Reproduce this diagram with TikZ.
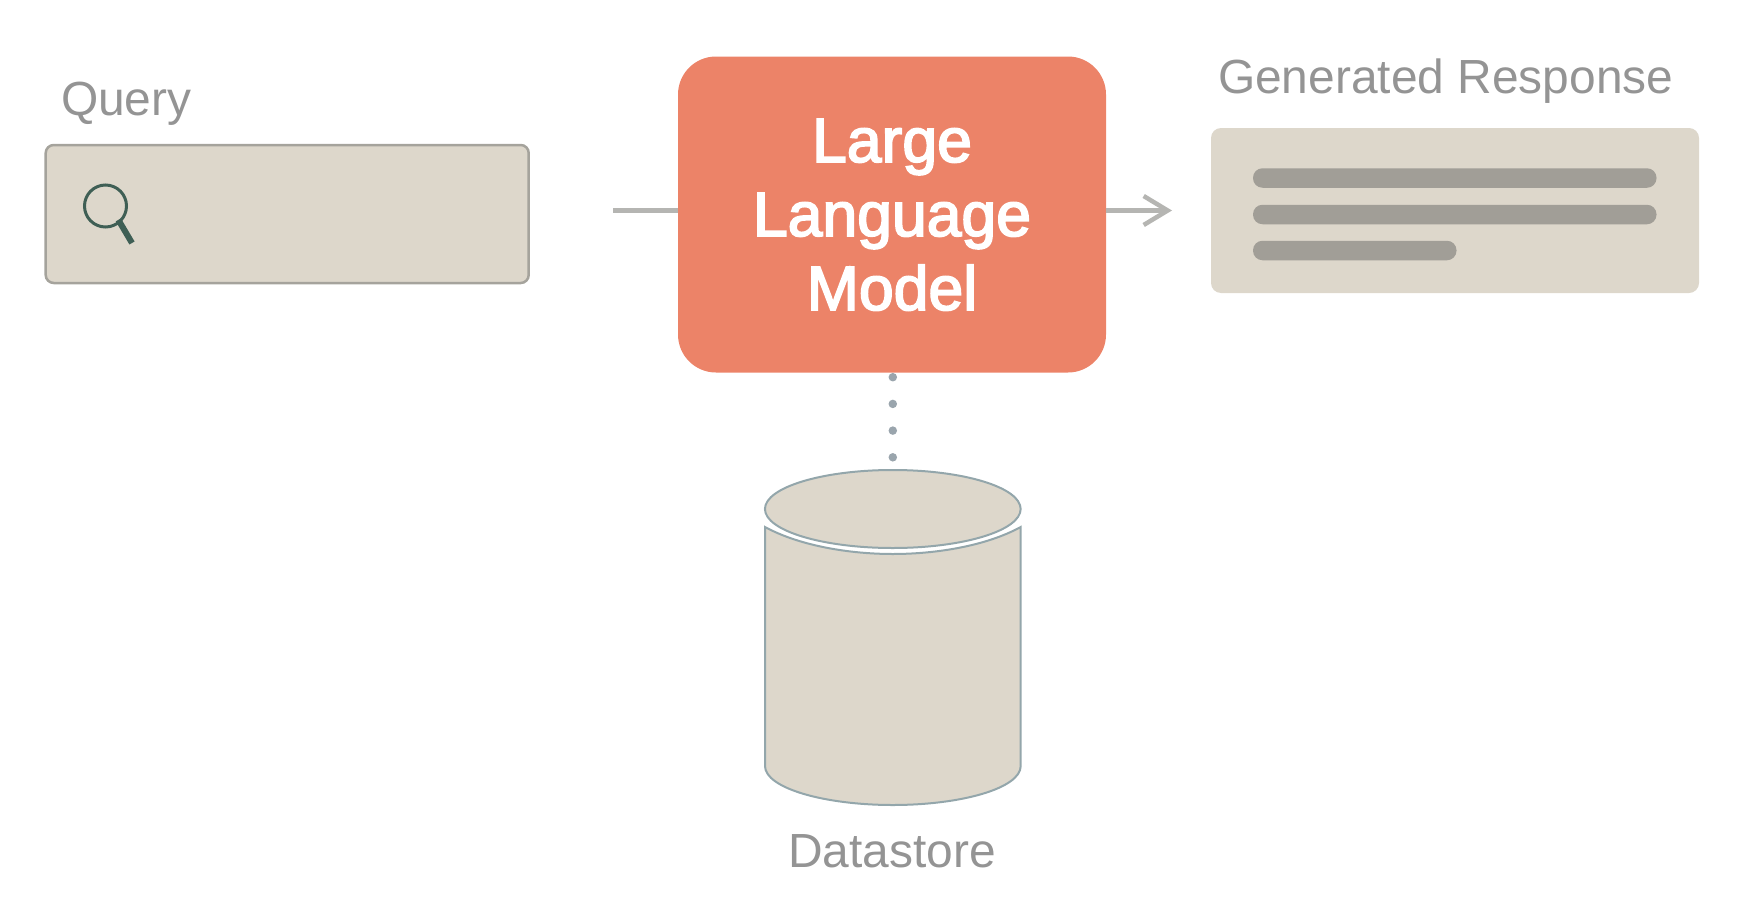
\documentclass[tikz,border=0pt]{standalone}
\usepackage{fontspec}
\setmainfont{Liberation Sans}
\newfontfamily\llmfont{Liberation Sans}[FakeBold=2.8]
\usetikzlibrary{arrows.meta,shapes.geometric}
\definecolor{beige}{HTML}{DDD7CB}
\definecolor{salmon}{HTML}{EC8368}
\definecolor{labelgrey}{HTML}{949494}
\definecolor{linegrey}{HTML}{B5B5B2}
\definecolor{barfill}{HTML}{A19E97}
\definecolor{boxedge}{HTML}{A5A39C}
\definecolor{cyledge}{HTML}{93A6AB}
\definecolor{dotgrey}{HTML}{9AA5AD}
\definecolor{icongreen}{HTML}{3F5F55}
\tikzset{
  lbl/.style={text=labelgrey,inner sep=0pt,outer sep=0pt,font=\fontsize{47.9}{50}\selectfont},
  panel/.style={fill=beige,inner sep=0pt,outer sep=0pt},
  textbar/.style={fill=barfill,rounded corners=9.5pt,inner sep=0pt,outer sep=0pt,minimum height=19.5pt,anchor=west},
  conn/.style={draw=linegrey,line width=4.5pt},
  cyl/.style={draw=cyledge,line width=2pt,fill=beige}
}
\begin{document}
\begin{tikzpicture}[x=1pt,y=-1pt]
\useasboundingbox (0,0) rectangle (1754,918);
% query
\node[lbl,anchor=base west] (qlabel) at (61,115) {Query};
\node[panel,draw=boxedge,line width=2.5pt,rounded corners=8pt,minimum width=483pt,minimum height=138pt] (query) at (287.2,214) {};
\node[draw=icongreen,line width=3pt,circle,inner sep=0pt,minimum size=42pt,outer sep=0pt] (lens) at (105.5,206) {};
\coordinate (handle) at (132,243);
\draw[icongreen,line width=6pt] (lens.south east) ++(-2,-1) -- (handle);
% llm
\node[fill=salmon,rounded corners=38pt,minimum width=428pt,minimum height=316pt,inner sep=0pt,outer sep=0pt,
  text=white,align=center,font=\fontsize{62.5}{74}\llmfont\selectfont,text height=191pt,text depth=0pt] (llm) at (892,214.5) {Large\\Language\\Model};
% response
\node[lbl,anchor=base west] (rlabel) at (1218,93) {Generated Response};
\node[panel,rounded corners=10pt,minimum width=488pt,minimum height=165pt] (resp) at (1455,210.5) {};
\node[textbar,minimum width=403.5pt] (bar1) at (1253,178) {};
\node[textbar,minimum width=403.5pt] (bar2) at (1253,214.5) {};
\node[textbar,minimum width=203.5pt] (bar3) at (1253,250.5) {};
% connectors
\coordinate (qout) at (613,210.5);
\coordinate (rin) at (1172,210.5);
\draw[conn] (qout) -- (qout -| llm.west);
\draw[conn,-{Straight Barb[length=24pt,width=29pt,line width=4.5pt]}] (rin -| llm.east) -- (rin);
% datastore
\path[cyl] (765,527) .. controls (800,546) and (850,554) .. (892.8,554)
  .. controls (936,554) and (986,546) .. (1020.7,527) -- (1020.7,766)
  .. controls (1020.7,788) and (962,805) .. (892.8,805)
  .. controls (824,805) and (765,788) .. (765,766) -- cycle;
\node[cyl,ellipse,inner sep=0pt,outer sep=0pt,minimum width=255.7pt,minimum height=78pt] (dstop) at (892.8,509) {};
\draw[dotgrey,line width=8.5pt,line cap=round,dash pattern=on 0pt off 26.7pt,shorten <=4.7pt,shorten >=12.5pt] (llm.south -| dstop.north) -- (dstop.north);
\node[lbl,anchor=base] (dlabel) at (892,867) {Datastore};
\end{tikzpicture}
\end{document}
